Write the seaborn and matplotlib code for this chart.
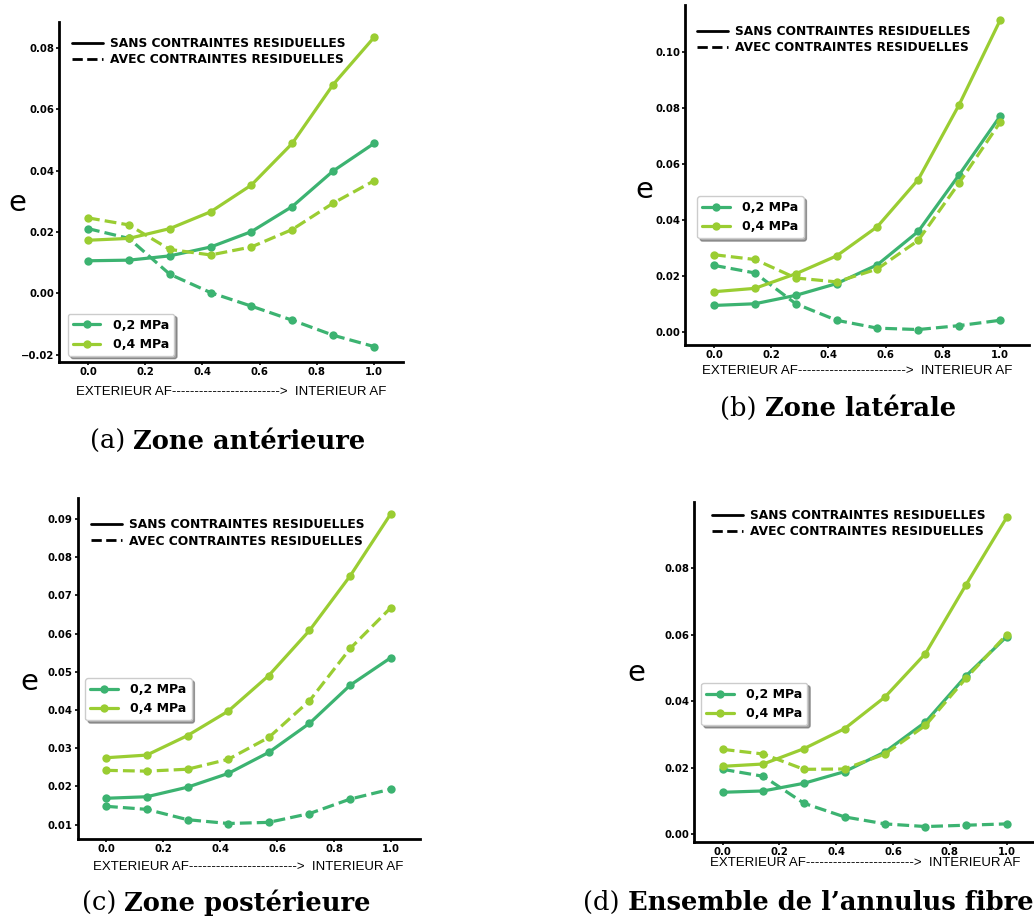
import matplotlib
matplotlib.use("Agg")
import matplotlib.pyplot as plt
from matplotlib.lines import Line2D
from matplotlib.text import Annotation
import seaborn as sns
import pandas as pd

# Position radiale normalisée (extérieur -> intérieur de l'AF)
x_pos = [0.0, 0.143, 0.286, 0.429, 0.571, 0.714, 0.857, 1.0]

# (a) Zone antérieure
a_02_sans = [0.0106, 0.0108, 0.0122, 0.0151, 0.0201, 0.0283, 0.0399, 0.0489]
a_04_sans = [0.0173, 0.0179, 0.0211, 0.0266, 0.0353, 0.0489, 0.0681, 0.0835]
a_02_avec = [0.0211, 0.0179, 0.0062, 0.0002, -0.0042, -0.0088, -0.0137, -0.0174]
a_04_avec = [0.0246, 0.0223, 0.0143, 0.0125, 0.0151, 0.0208, 0.0294, 0.0367]

# (b) Zone latérale
b_02_sans = [0.0096, 0.0102, 0.0132, 0.0174, 0.0241, 0.0360, 0.0562, 0.0771]
b_04_sans = [0.0145, 0.0157, 0.0209, 0.0273, 0.0377, 0.0545, 0.0812, 0.1113]
b_02_avec = [0.0239, 0.0212, 0.0102, 0.0043, 0.0015, 0.0010, 0.0024, 0.0043]
b_04_avec = [0.0277, 0.0260, 0.0194, 0.0180, 0.0226, 0.0328, 0.0533, 0.0749]

# (c) Zone postérieure
c_02_sans = [0.0169, 0.0173, 0.0198, 0.0234, 0.0289, 0.0365, 0.0465, 0.0537]
c_04_sans = [0.0275, 0.0282, 0.0333, 0.0397, 0.0490, 0.0608, 0.0751, 0.0914]
c_02_avec = [0.0148, 0.0140, 0.0113, 0.0103, 0.0106, 0.0129, 0.0167, 0.0193]
c_04_avec = [0.0242, 0.0240, 0.0245, 0.0271, 0.0328, 0.0424, 0.0561, 0.0668]

# (d) Ensemble de l'annulus fibreux
d_02_sans = [0.0126, 0.0130, 0.0153, 0.0188, 0.0247, 0.0337, 0.0476, 0.0594]
d_04_sans = [0.0204, 0.0211, 0.0257, 0.0317, 0.0412, 0.0543, 0.0750, 0.0952]
d_02_avec = [0.0195, 0.0174, 0.0093, 0.0052, 0.0031, 0.0023, 0.0027, 0.0031]
d_04_avec = [0.0255, 0.0241, 0.0195, 0.0196, 0.0241, 0.0327, 0.0469, 0.0600]

pressions = ["0,2 MPa", "0,4 MPa"]
contraintes = ["SANS CONTRAINTES RESIDUELLES", "AVEC CONTRAINTES RESIDUELLES"]
couleurs = {"0,2 MPa": "mediumseagreen", "0,4 MPa": "yellowgreen"}

yticks_a = [-0.02, 0.0, 0.02, 0.04, 0.06, 0.08]
yticks_b = [0.0, 0.02, 0.04, 0.06, 0.08, 0.10]
yticks_c = [0.01, 0.02, 0.03, 0.04, 0.05, 0.06, 0.07, 0.08, 0.09]
yticks_d = [0.0, 0.02, 0.04, 0.06, 0.08]
xticks = [0.0, 0.2, 0.4, 0.6, 0.8, 1.0]

xlabel = "EXTERIEUR AF------------------------>  INTERIEUR AF"

sns.set_style("ticks")
plt.rcParams["font.family"] = ["DejaVu Sans"]
for k in ["text.color", "axes.labelcolor", "xtick.color", "ytick.color", "axes.edgecolor"]:
    plt.rcParams[k] = "black"

W, H = 1034, 919
fig = plt.figure(figsize=(W / 100, H / 100), dpi=100)


def rect(l, t, r, b):
    # coins en pixels -> fraction de figure
    return [l / W, 1 - b / H, (r - l) / W, (b - t) / H]


def tableau(s02, s04, a02, a04):
    lignes = []
    for p, c, vals in [(pressions[0], contraintes[0], s02), (pressions[0], contraintes[1], a02),
                       (pressions[1], contraintes[0], s04), (pressions[1], contraintes[1], a04)]:
        for x, v in zip(x_pos, vals):
            lignes.append({"x": x, "e": v, "pression": p, "contraintes": c})
    return pd.DataFrame(lignes)


panneaux = [
    dict(box=(59.4, 22, 402.6, 362), data=(a_02_sans, a_04_sans, a_02_avec, a_04_avec),
         yticks=yticks_a, elab=(-0.124, 0.468), xlab=-0.088,
         leg1=(0.037, 0.955), leg2=("lower left", (0.025, 0.018))),
    dict(box=(685.4, 5, 1028.6, 345), data=(b_02_sans, b_04_sans, b_02_avec, b_04_avec),
         yticks=yticks_b, elab=(-0.12, 0.456), xlab=-0.076,
         leg1=(0.035, 0.94), leg2=("upper left", (0.035, 0.438))),
    dict(box=(77.5, 498, 419.5, 839), data=(c_02_sans, c_04_sans, c_02_avec, c_04_avec),
         yticks=yticks_c, elab=(-0.14, 0.46), xlab=-0.082,
         leg1=(0.04, 0.94), leg2=("upper left", (0.023, 0.472))),
    dict(box=(694.3, 502, 1035.1, 842), data=(d_02_sans, d_04_sans, d_02_avec, d_04_avec),
         yticks=yticks_d, elab=(-0.17, 0.497), xlab=-0.062,
         leg1=(0.053, 0.98), leg2=("upper left", (0.02, 0.468))),
]

for p in panneaux:
    ax = fig.add_axes(rect(*p["box"]))
    df = tableau(*p["data"])
    sns.lineplot(data=df, x="x", y="e", hue="pression", style="contraintes",
                 palette=couleurs, hue_order=pressions, style_order=contraintes,
                 dashes={contraintes[0]: "", contraintes[1]: (3.7, 1.6)},
                 markers={contraintes[0]: "o", contraintes[1]: "o"},
                 markersize=6, markeredgewidth=0, linewidth=2.3,
                 legend=False, ax=ax)
    ax.set_xlim(-0.1, 1.1)
    ax.set_xticks(xticks)
    ax.set_yticks(p["yticks"])
    sns.despine(ax=ax)
    for s in ["left", "bottom"]:
        ax.spines[s].set_linewidth(2)
    ax.tick_params(axis="both", length=2, width=1.2, pad=1.5, labelsize=7.3)
    for lab in ax.get_xticklabels() + ax.get_yticklabels():
        lab.set_fontweight("bold")

    ax.set_ylabel("e", fontsize=21, rotation=0, ha="center", va="center")
    ax.yaxis.set_label_coords(*p["elab"])
    ax.set_xlabel(xlabel, fontsize=9.5, family="Liberation Sans", va="center")
    ax.xaxis.set_label_coords(0.5, p["xlab"])

    # légende des styles de ligne
    h1 = [Line2D([], [], color="black", lw=2, ls="-"),
          Line2D([], [], color="black", lw=2, ls=(0, (3.7, 1.6)))]
    l1 = ax.legend(h1, contraintes, loc="upper left", bbox_to_anchor=p["leg1"],
                   frameon=False, borderpad=0, borderaxespad=0, handlelength=2.5,
                   handletextpad=0.6, labelspacing=0.25,
                   prop={"weight": "bold", "size": 8.8})
    ax.add_artist(l1)

    # légende des pressions
    h2 = [Line2D([], [], color=couleurs[k], lw=2.3, marker="o", markersize=6,
                 markeredgewidth=0) for k in pressions]
    loc2, anc2 = p["leg2"]
    ax.legend(h2, pressions, loc=loc2, bbox_to_anchor=anc2, borderaxespad=0,
              frameon=True, shadow=True, fancybox=True, handlelength=2.2,
              handletextpad=1.0, borderpad=0.4,
              prop={"weight": "bold", "size": 9})

# légendes des sous-figures
legendes = [
    ("(a) ", "Zone antérieure", 90, 449),
    ("(b) ", "Zone latérale", 720, 416),
    ("(c) ", "Zone postérieure", 82, 911),
    ("(d) ", "Ensemble de l’annulus fibreux", 583, 910),
]
for lettre, titre, xp, yp in legendes:
    t1 = fig.text(xp / W, 1 - yp / H, lettre, family="DejaVu Serif", fontsize=18.5,
                  ha="left", va="baseline")
    fig.add_artist(Annotation(titre, xy=(1, 0), xycoords=t1, family="DejaVu Serif",
                              fontsize=18.5, fontweight="bold", ha="left", va="bottom",
                              annotation_clip=False))

fig.savefig("out.png", dpi=100)
